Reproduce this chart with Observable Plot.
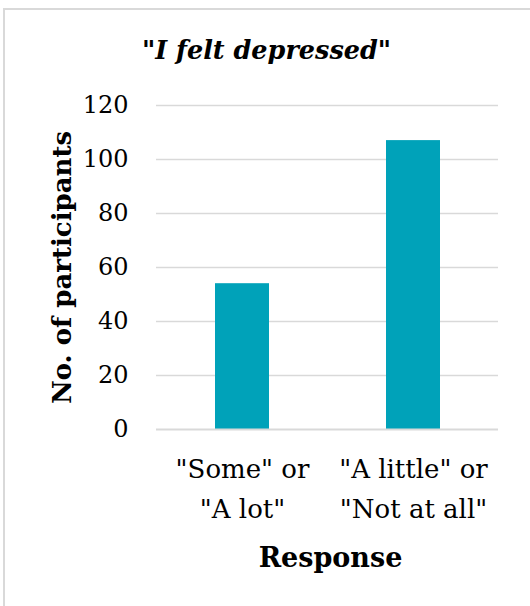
<!DOCTYPE html>
<html>
<head>
<meta charset="utf-8">
<script src="https://cdn.jsdelivr.net/npm/d3@7"></script>
<script src="https://cdn.jsdelivr.net/npm/@observablehq/plot@0.6"></script>
<style>
  html, body { margin: 0; padding: 0; background: #fff; overflow: hidden; }
  #page { position: relative; width: 530px; height: 606px; overflow: hidden; }
  #frame {
    position: absolute; left: 3px; top: 8px; width: 640px; height: 700px;
    border-left: 2px solid #d9d9d9; border-top: 2px solid #d9d9d9;
  }
  #title {
    position: absolute; left: 0; top: 38px; width: 533px; text-align: center;
    font-family: "DejaVu Serif", serif; font-style: italic; font-weight: bold;
    font-size: 25.5px; color: #000; line-height: 1;
  }
  #chart { position: absolute; left: 0; top: 80px; }
</style>
</head>
<body>
<div id="page">
  <div id="frame"></div>
  <div id="title">"I felt depressed"</div>
  <div id="chart"></div>
</div>
<script>
// Survey responses to the statement "I felt depressed"
const categories = ["\"Some\" or\n\"A lot\"", "\"A little\" or\n\"Not at all\""];
const counts = [54, 107];
const yTicks = [0, 20, 40, 60, 80, 100, 120];
const xLabel = "Response";
const yLabel = "No. of participants";

const data = categories.map((c, i) => ({response: c, count: counts[i]}));

const chart = Plot.plot({
  width: 530,
  height: 526,
  marginTop: 25,
  marginLeft: 156,
  marginRight: 32,
  marginBottom: 177,
  style: {fontFamily: "DejaVu Serif, serif", color: "#000", background: "transparent", overflow: "visible"},
  x: {domain: categories, paddingInner: 0.687, paddingOuter: 0.3435, label: null},
  y: {domain: [0, 120], label: null},
  marks: [
    Plot.gridY(yTicks.filter(d => d > 0), {stroke: "#d9d9d9", strokeOpacity: 1, strokeWidth: 1.5}),
    Plot.barY(data, {x: "response", y: "count", fill: "#00a2b9"}),
    Plot.ruleY([0], {stroke: "#d9d9d9", strokeWidth: 2}),
    Plot.axisY(yTicks, {tickSize: 0, tickPadding: 28, fontSize: 24, fill: "#000", label: null}),
    Plot.axisX({tickSize: 0, tickPadding: 20, fontSize: 26, lineHeight: 1.55, fill: "#000", label: null}),
    Plot.text([xLabel], {frameAnchor: "bottom", dy: 137, dx: 3, fontSize: 27, fontWeight: "bold", fill: "#000"}),
    Plot.text([yLabel], {frameAnchor: "left", textAnchor: "middle", dx: -94, rotate: -90, fontSize: 26, fontWeight: "bold", fill: "#000"})
  ]
});
document.getElementById("chart").appendChild(chart);
</script>
</body>
</html>
